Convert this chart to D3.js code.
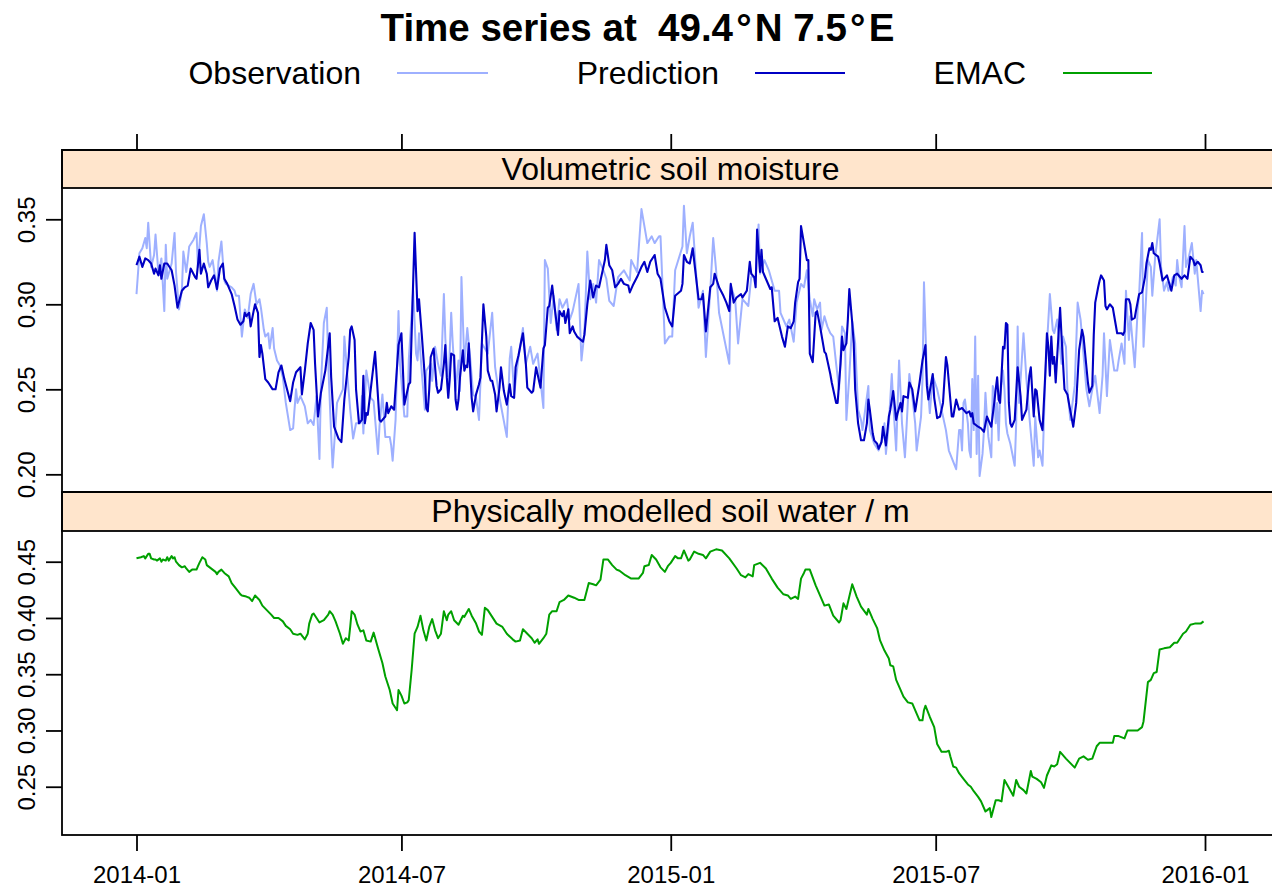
<!DOCTYPE html>
<html><head><meta charset="utf-8">
<script src="https://cdn.jsdelivr.net/npm/d3@7"></script>
<style>
body{margin:0;background:#fff}
svg{display:block}
text{font-family:"Liberation Sans",Arial,Helvetica,sans-serif;fill:#000}
</style>
</head><body>
<svg id="chart" width="1272" height="889"></svg>
<script>
// ---------------- data ----------------
const startDate = "2014-01-01";
const xTickLabels = ["2014-01","2014-07","2015-01","2015-07","2016-01"];
const topYTicks = [0.20,0.25,0.30,0.35];
const bottomYTicks = [0.25,0.30,0.35,0.40,0.45];
const seriesNames = ["Observation","Prediction","EMAC"];
const seriesColors = ["#9eb0ff","#0000c4","#00a000"];
const panelTitles = ["Volumetric soil moisture","Physically modelled soil water / m"];
const chartTitle = "Time series at  49.4\u200A°\u200AN 7.5\u200A°\u200AE";

// [day offset from startDate, value]
const observation = [[0,.306],[2,.330],[4,.333],[6,.339],[7,.333],[8,.348],[10,.322],[12,.329],[13,.341],[15,.318],[17,.327],[19,.296],[20,.335],[21,.315],[24,.324],[26,.342],[27,.319],[29,.297],[31,.308],[32,.331],[34,.319],[35,.326],[36,.334],[39,.338],[41,.342],[42,.322],[44,.346],[46,.353],[48,.336],[49,.325],[50,.322],[52,.326],[55,.308],[56,.325],[58,.337],[60,.314],[61,.312],[65,.310],[67,.308],[68,.305],[70,.305],[72,.281],[74,.297],[76,.292],[78,.306],[80,.312],[82,.300],[84,.303],[85,.298],[87,.285],[88,.281],[90,.283],[91,.274],[93,.286],[94,.274],[96,.267],[98,.264],[100,.257],[102,.242],[105,.226],[107,.227],[109,.250],[110,.242],[112,.246],[115,.240],[117,.230],[119,.232],[121,.229],[123,.246],[125,.209],[126,.252],[128,.289],[130,.298],[131,.265],[133,.223],[134,.204],[137,.242],[139,.246],[141,.250],[142,.281],[144,.259],[146,.238],[148,.221],[150,.230],[153,.230],[154,.246],[155,.224],[157,.261],[160,.245],[162,.243],[165,.212],[166,.228],[168,.247],[170,.222],[171,.222],[173,.222],[174,.217],[175,.208],[177,.232],[179,.296],[180,.265],[183,.234],[185,.234],[186,.267],[189,.308],[191,.271],[192,.267],[193,.283],[195,.259],[197,.238],[198,.261],[201,.265],[202,.255],[204,.275],[206,.265],[208,.258],[210,.306],[211,.280],[213,.249],[215,.295],[216,.278],[218,.249],[220,.267],[221,.249],[222,.316],[224,.265],[226,.286],[228,.268],[230,.247],[232,.245],[234,.232],[236,.277],[240,.271],[243,.295],[245,.263],[248,.245],[253,.222],[255,.268],[256,.275],[258,.247],[261,.269],[264,.286],[266,.265],[269,.275],[271,.265],[274,.271],[278,.239],[279,.326],[281,.321],[283,.289],[285,.305],[287,.285],[289,.303],[291,.298],[294,.303],[296,.291],[298,.296],[302,.312],[304,.267],[306,.283],[308,.331],[310,.303],[312,.312],[314,.301],[316,.326],[319,.320],[321,.315],[323,.302],[326,.299],[329,.316],[333,.320],[335,.317],[337,.314],[338,.326],[342,.319],[345,.356],[349,.336],[352,.340],[354,.336],[357,.340],[358,.340],[361,.277],[364,.281],[366,.281],[368,.320],[373,.334],[374,.358],[376,.330],[378,.340],[380,.348],[382,.322],[384,.298],[387,.308],[389,.269],[392,.308],[394,.339],[396,.320],[398,.295],[405,.265],[406,.311],[409,.303],[411,.277],[414,.303],[418,.299],[420,.316],[423,.316],[425,.347],[426,.318],[429,.326],[432,.320],[434,.314],[436,.308],[439,.308],[440,.295],[443,.289],[444,.287],[446,.291],[449,.278],[451,.301],[454,.312],[456,.310],[458,.320],[460,.303],[462,.293],[463,.303],[465,.297],[467,.301],[468,.285],[470,.293],[472,.287],[474,.283],[476,.281],[478,.265],[480,.250],[482,.287],[484,.283],[485,.232],[487,.258],[489,.290],[491,.277],[493,.238],[495,.232],[496,.226],[500,.252],[501,.226],[504,.218],[507,.214],[510,.222],[511,.230],[512,.212],[514,.230],[516,.259],[517,.242],[519,.214],[521,.267],[523,.230],[525,.210],[528,.259],[530,.246],[532,.230],[533,.214],[536,.234],[537,.256],[538,.313],[540,.258],[542,.236],[544,.258],[547,.250],[553,.226],[555,.214],[560,.203],[562,.226],[563,.226],[564,.214],[565,.242],[566,.244],[568,.230],[569,.214],[570,.210],[571,.256],[572,.226],[573,.281],[574,.212],[575,.258],[576,.199],[578,.212],[579,.226],[580,.248],[581,.234],[582,.222],[584,.210],[585,.252],[586,.248],[587,.230],[588,.242],[589,.220],[590,.246],[592,.261],[593,.250],[594,.230],[595,.224],[597,.218],[600,.205],[601,.230],[602,.287],[603,.242],[606,.283],[608,.256],[610,.234],[613,.205],[614,.234],[616,.210],[617,.214],[619,.205],[621,.261],[624,.306],[626,.285],[627,.283],[629,.291],[632,.265],[633,.281],[635,.275],[636,.250],[638,.232],[641,.252],[643,.301],[645,.291],[649,.250],[651,.240],[653,.250],[655,.258],[658,.236],[660,.258],[661,.283],[663,.246],[665,.279],[668,.261],[670,.261],[671,.267],[673,.277],[675,.265],[676,.308],[678,.279],[679,.293],[682,.263],[684,.297],[685,.306],[687,.342],[688,.275],[690,.308],[691,.326],[693,.322],[694,.305],[696,.328],[699,.350],[700,.322],[702,.308],[704,.313],[705,.308],[707,.312],[708,.316],[710,.311],[711,.326],[712,.318],[714,.310],[716,.346],[717,.322],[719,.328],[721,.336],[723,.318],[724,.326],[727,.296],[728,.308],[729,.306]];

const prediction = [[0,.323],[2,.328],[4,.322],[6,.327],[8,.326],[10,.324],[12,.318],[13,.321],[15,.317],[16,.323],[17,.315],[19,.324],[21,.324],[24,.320],[26,.311],[28,.298],[31,.308],[33,.310],[35,.311],[37,.321],[40,.316],[41,.315],[43,.332],[44,.318],[46,.324],[48,.318],[49,.310],[51,.314],[53,.317],[55,.309],[57,.321],[59,.324],[60,.315],[62,.312],[65,.306],[67,.299],[69,.291],[71,.288],[73,.290],[74,.295],[75,.293],[77,.295],[78,.287],[80,.296],[81,.300],[83,.295],[84,.269],[85,.276],[86,.271],[88,.256],[90,.254],[93,.250],[95,.250],[97,.260],[99,.264],[101,.256],[105,.243],[107,.254],[109,.260],[112,.263],[113,.247],[115,.261],[117,.277],[119,.289],[121,.285],[122,.265],[124,.234],[126,.248],[129,.261],[132,.283],[133,.257],[135,.228],[138,.221],[140,.219],[142,.244],[145,.269],[146,.285],[147,.287],[149,.279],[150,.250],[152,.230],[154,.232],[155,.258],[156,.230],[157,.236],[158,.235],[163,.272],[166,.232],[167,.231],[170,.234],[171,.242],[172,.236],[174,.240],[176,.238],[179,.276],[181,.283],[183,.241],[186,.253],[187,.254],[190,.342],[192,.296],[193,.303],[195,.281],[197,.257],[198,.239],[199,.237],[200,.250],[201,.269],[203,.274],[205,.252],[206,.248],[208,.250],[210,.265],[211,.276],[212,.257],[213,.245],[214,.256],[215,.271],[217,.270],[218,.244],[219,.238],[220,.244],[221,.257],[223,.273],[224,.261],[225,.264],[226,.263],[227,.277],[229,.245],[230,.237],[232,.247],[234,.253],[235,.257],[237,.300],[239,.281],[240,.261],[242,.255],[243,.255],[245,.247],[246,.237],[248,.251],[249,.263],[251,.249],[253,.241],[255,.253],[256,.246],[258,.245],[259,.263],[261,.270],[263,.279],[264,.283],[266,.265],[267,.251],[270,.248],[271,.249],[273,.263],[275,.255],[276,.251],[278,.274],[279,.276],[281,.298],[282,.299],[284,.311],[286,.296],[288,.282],[289,.296],[291,.293],[292,.296],[293,.289],[295,.297],[296,.283],[298,.287],[299,.284],[301,.281],[305,.278],[306,.282],[308,.300],[310,.314],[312,.304],[314,.311],[316,.310],[319,.322],[320,.326],[321,.335],[323,.323],[325,.320],[327,.310],[329,.312],[331,.315],[333,.312],[336,.311],[337,.307],[339,.311],[342,.316],[345,.322],[347,.325],[349,.319],[351,.325],[354,.329],[356,.318],[358,.315],[361,.298],[364,.290],[366,.287],[368,.305],[372,.308],[373,.312],[374,.329],[376,.325],[378,.324],[380,.333],[382,.318],[384,.303],[386,.303],[387,.306],[389,.284],[392,.310],[394,.312],[395,.318],[398,.310],[401,.305],[403,.301],[405,.296],[406,.312],[408,.301],[410,.304],[413,.306],[414,.304],[417,.308],[419,.325],[420,.318],[422,.316],[423,.310],[424,.344],[426,.319],[427,.332],[428,.319],[433,.309],[434,.310],[436,.290],[438,.292],[441,.281],[443,.275],[445,.287],[447,.286],[449,.290],[450,.301],[452,.313],[453,.315],[454,.346],[456,.336],[458,.326],[459,.326],[460,.271],[462,.266],[464,.295],[465,.296],[467,.287],[470,.272],[471,.271],[474,.259],[475,.254],[478,.242],[479,.242],[481,.265],[482,.281],[483,.273],[485,.277],[486,.291],[487,.309],[489,.289],[490,.277],[491,.250],[493,.230],[495,.220],[497,.220],[499,.230],[500,.244],[501,.238],[503,.224],[504,.220],[506,.218],[507,.215],[509,.219],[510,.228],[512,.217],[514,.234],[515,.238],[517,.249],[519,.232],[520,.236],[522,.242],[523,.237],[524,.246],[527,.245],[528,.254],[530,.250],[532,.237],[535,.254],[537,.267],[539,.276],[540,.252],[541,.244],[544,.259],[545,.245],[547,.233],[549,.234],[551,.242],[553,.269],[554,.264],[557,.234],[558,.234],[560,.244],[562,.238],[564,.239],[567,.236],[569,.237],[570,.234],[571,.236],[572,.230],[575,.228],[577,.227],[579,.225],[581,.234],[583,.230],[584,.228],[586,.242],[587,.250],[588,.257],[589,.244],[590,.242],[592,.275],[593,.274],[594,.289],[595,.288],[596,.242],[597,.230],[598,.228],[600,.232],[602,.263],[604,.246],[605,.232],[608,.238],[610,.258],[611,.263],[613,.234],[614,.250],[615,.249],[617,.232],[619,.226],[621,.261],[622,.283],[623,.275],[624,.258],[625,.281],[626,.265],[627,.269],[628,.254],[629,.269],[631,.298],[632,.281],[634,.250],[636,.247],[637,.242],[640,.228],[642,.242],[644,.273],[646,.285],[647,.281],[650,.254],[651,.248],[653,.252],[654,.282],[655,.301],[657,.310],[658,.314],[659,.317],[661,.314],[662,.299],[663,.297],[665,.300],[667,.298],[668,.293],[670,.283],[673,.283],[674,.282],[675,.284],[676,.303],[678,.303],[679,.300],[680,.291],[682,.292],[683,.297],[685,.306],[687,.307],[689,.316],[690,.324],[692,.333],[693,.332],[694,.336],[695,.330],[698,.328],[699,.324],[701,.314],[703,.316],[704,.317],[707,.308],[709,.317],[711,.318],[714,.315],[716,.317],[718,.315],[720,.328],[722,.326],[723,.323],[725,.325],[727,.323],[728,.319],[729,.319]];

const emac = [[0,.453],[3,.454],[5,.455],[6,.453],[8,.457],[9,.457],[10,.453],[12,.452],[13,.452],[14,.451],[16,.453],[17,.450],[18,.452],[20,.451],[21,.454],[22,.451],[24,.455],[25,.453],[26,.454],[27,.450],[29,.447],[31,.445],[33,.446],[34,.444],[36,.441],[38,.443],[41,.443],[42,.446],[43,.449],[45,.454],[47,.452],[48,.447],[50,.445],[52,.443],[54,.441],[55,.439],[56,.441],[58,.443],[60,.440],[63,.437],[65,.431],[68,.426],[71,.421],[72,.420],[75,.419],[77,.418],[79,.415],[81,.420],[84,.416],[86,.411],[89,.407],[92,.403],[94,.400],[97,.400],[100,.397],[102,.393],[105,.390],[107,.386],[110,.385],[112,.386],[115,.381],[117,.386],[118,.395],[120,.403],[121,.404],[123,.400],[125,.396],[128,.398],[131,.403],[132,.406],[134,.403],[136,.397],[139,.386],[141,.377],[143,.382],[145,.380],[146,.392],[147,.406],[149,.403],[151,.394],[153,.388],[155,.389],[157,.380],[160,.379],[162,.387],[165,.373],[168,.360],[170,.348],[173,.336],[175,.324],[178,.318],[179,.336],[181,.331],[183,.324],[185,.325],[186,.327],[188,.354],[190,.386],[192,.392],[194,.402],[196,.389],[198,.380],[200,.392],[202,.399],[204,.389],[206,.382],[208,.386],[210,.406],[212,.398],[213,.403],[215,.406],[217,.398],[220,.394],[223,.402],[224,.401],[227,.408],[229,.402],[232,.395],[234,.388],[236,.385],[238,.409],[240,.407],[242,.403],[246,.395],[250,.392],[253,.386],[257,.381],[259,.379],[262,.380],[264,.390],[267,.386],[270,.382],[272,.378],[274,.381],[275,.377],[278,.382],[280,.386],[282,.403],[284,.406],[287,.406],[289,.414],[292,.416],[295,.420],[299,.418],[302,.416],[306,.416],[309,.431],[312,.430],[314,.429],[317,.434],[319,.452],[322,.452],[325,.447],[328,.443],[330,.442],[334,.438],[338,.435],[343,.435],[346,.440],[347,.446],[350,.447],[352,.456],[355,.452],[358,.445],[361,.441],[363,.446],[365,.449],[368,.455],[370,.453],[372,.453],[374,.460],[377,.451],[378,.452],[381,.459],[384,.457],[387,.456],[389,.453],[392,.459],[396,.461],[400,.460],[405,.453],[410,.444],[413,.438],[416,.436],[418,.439],[421,.437],[422,.447],[426,.449],[430,.444],[434,.435],[438,.427],[442,.421],[445,.420],[447,.417],[450,.419],[452,.417],[454,.435],[456,.440],[457,.443],[460,.443],[464,.429],[468,.417],[470,.411],[473,.412],[476,.402],[480,.396],[481,.398],[483,.413],[485,.408],[487,.419],[489,.430],[492,.419],[495,.410],[499,.403],[500,.408],[503,.399],[506,.391],[508,.380],[511,.371],[514,.364],[515,.358],[517,.357],[519,.345],[522,.336],[524,.330],[527,.325],[530,.324],[533,.315],[535,.309],[537,.309],[538,.318],[539,.322],[542,.312],[545,.303],[547,.288],[550,.281],[553,.281],[555,.282],[556,.277],[558,.268],[560,.267],[562,.262],[565,.257],[568,.252],[570,.250],[572,.246],[575,.241],[577,.237],[580,.228],[581,.229],[583,.231],[584,.223],[585,.228],[587,.238],[589,.238],[591,.237],[593,.256],[596,.249],[599,.242],[601,.256],[603,.250],[606,.247],[608,.244],[611,.264],[612,.259],[615,.257],[618,.254],[620,.249],[622,.260],[625,.269],[627,.268],[629,.270],[631,.281],[635,.275],[638,.271],[641,.267],[644,.275],[647,.277],[650,.274],[653,.275],[656,.286],[658,.289],[664,.289],[667,.289],[668,.295],[671,.295],[675,.293],[677,.300],[680,.300],[684,.300],[687,.303],[688,.308],[691,.343],[693,.345],[695,.351],[697,.352],[699,.372],[702,.373],[706,.374],[709,.378],[711,.378],[715,.386],[717,.388],[720,.394],[723,.395],[727,.395],[729,.397]];

// ---------------- layout ----------------
const W = 1272, H = 889;
const panelL = 62, panelR = 1279;
const topStrip = [150, 188], topPlot = [188, 492];
const botStrip = [492, 531], botPlot = [531, 835];

const svg = d3.select("#chart");
const parse = d3.utcParse("%Y-%m-%d");
const t0 = parse(startDate);
const toDate = d => d3.utcDay.offset(t0, d);

const x = d3.scaleUtc()
  .domain([parse("2014-01-01"), parse("2016-01-01")])
  .range([136.5, 1205]);
const yTop = d3.scaleLinear().domain([0.1896, 0.3684]).range([topPlot[1], topPlot[0]]);
const yBot = d3.scaleLinear().domain([0.2071, 0.4773]).range([botPlot[1], botPlot[0]]);

const tickDates = xTickLabels.map(s => parse(s + "-01"));

// clip paths
const defs = svg.append("defs");
defs.append("clipPath").attr("id","clipTop").append("rect")
  .attr("x", panelL).attr("y", topPlot[0]).attr("width", panelR - panelL).attr("height", topPlot[1] - topPlot[0]);
defs.append("clipPath").attr("id","clipBot").append("rect")
  .attr("x", panelL).attr("y", botPlot[0]).attr("width", panelR - panelL).attr("height", botPlot[1] - botPlot[0]);

// title
svg.append("text")
  .attr("x", 637.5).attr("y", 41)
  .attr("text-anchor","middle")
  .style("font-size","38.5px").style("font-weight","bold").style("white-space","pre")
  .text(chartTitle);

// legend
const legendTextEnd = [361, 719, 1026];
const legendLineX = [[397, 488], [755, 845], [1063, 1152]];
seriesNames.forEach((name, i) => {
  svg.append("text").attr("x", legendTextEnd[i]).attr("y", 84)
    .attr("text-anchor","end").style("font-size","32px").text(name);
  svg.append("line")
    .attr("x1", legendLineX[i][0]).attr("x2", legendLineX[i][1])
    .attr("y1", 73).attr("y2", 73)
    .attr("stroke", seriesColors[i]).attr("stroke-width", 2);
});

// lines
const lineTop = d3.line().x(d => x(toDate(d[0]))).y(d => yTop(d[1]));
const lineBot = d3.line().x(d => x(toDate(d[0]))).y(d => yBot(d[1]));

const gTop = svg.append("g").attr("clip-path","url(#clipTop)");
gTop.append("path").datum(observation).attr("d", lineTop)
  .attr("fill","none").attr("stroke", seriesColors[0]).attr("stroke-width", 2).attr("stroke-linejoin","round");
gTop.append("path").datum(prediction).attr("d", lineTop)
  .attr("fill","none").attr("stroke", seriesColors[1]).attr("stroke-width", 2.1).attr("stroke-linejoin","round");

const gBot = svg.append("g").attr("clip-path","url(#clipBot)");
gBot.append("path").datum(emac).attr("d", lineBot)
  .attr("fill","none").attr("stroke", seriesColors[2]).attr("stroke-width", 2).attr("stroke-linejoin","round");

// strips
[[topStrip, panelTitles[0]], [botStrip, panelTitles[1]]].forEach(([s, label]) => {
  svg.append("rect").attr("x", panelL).attr("y", s[0]).attr("width", panelR - panelL).attr("height", s[1] - s[0])
    .attr("fill","#ffe5cc").attr("stroke","#000").attr("stroke-width", 1.8);
  svg.append("text").attr("x", 670.5).attr("y", s[0] + 30)
    .attr("text-anchor","middle").style("font-size","32px").text(label);
});

// panel borders
[[topStrip[0], topPlot[1]], [botStrip[0], botPlot[1]]].forEach(([a, b]) => {
  svg.append("rect").attr("x", panelL).attr("y", a).attr("width", panelR - panelL).attr("height", b - a)
    .attr("fill","none").attr("stroke","#000").attr("stroke-width", 1.8);
});

// axes
function styleAxis(g) {
  g.select(".domain").remove();
  g.selectAll(".tick line").attr("stroke","#000").attr("stroke-width", 1.8);
  g.selectAll(".tick text").style("font-size","24px").attr("fill","#000")
    .style("font-family",'"Liberation Sans",Arial,sans-serif');
}

svg.append("g").attr("transform", `translate(0,${botPlot[1]})`)
  .call(d3.axisBottom(x).tickValues(tickDates).tickSize(16).tickPadding(15)
    .tickFormat((d, i) => xTickLabels[i]))
  .call(styleAxis);

svg.append("g").attr("transform", `translate(0,${topStrip[0]})`)
  .call(d3.axisTop(x).tickValues(tickDates).tickSize(16).tickFormat(""))
  .call(styleAxis);

function leftAxis(scale, ticks) {
  const g = svg.append("g").attr("transform", `translate(${panelL},0)`)
    .call(d3.axisLeft(scale).tickValues(ticks).tickSize(16).tickFormat(d3.format(".2f")))
    .call(styleAxis);
  g.selectAll(".tick text")
    .attr("x", null).attr("dy", null)
    .attr("text-anchor","middle")
    .attr("transform","translate(-27,0) rotate(-90)");
}
leftAxis(yTop, topYTicks);
leftAxis(yBot, bottomYTicks);
</script>
</body></html>
